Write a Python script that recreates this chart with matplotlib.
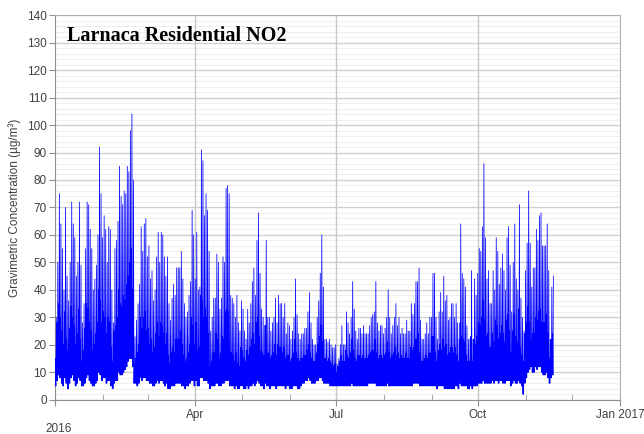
import numpy as np
import matplotlib
matplotlib.use("Agg")
import matplotlib.pyplot as plt
import matplotlib.dates as mdates

# daily maximum (µg/m3), 1 Jan 2016 .. 18 Nov 2016
peak = [30, 50, 75, 64, 55, 40, 70, 45, 36, 50, 72, 64, 59, 45, 50, 72, 49, 28, 35, 55,
        72, 71, 62, 55, 40, 44, 49, 60, 92, 75, 59, 67, 62, 50, 63, 62, 40, 28, 55, 58,
        65, 85, 74, 71, 76, 75, 85, 83, 98, 104, 80, 23, 29, 35, 42, 63, 54, 64, 66, 52,
        56, 44, 47, 36, 40, 52, 61, 50, 61, 60, 52, 45, 52, 35, 29, 37, 42, 38, 48, 48,
        48, 54, 44, 35, 30, 32, 38, 43, 69, 60, 44, 61, 40, 41, 91, 87, 67, 75, 69, 54,
        25, 30, 37, 37, 53, 50, 33, 37, 52, 50, 77, 78, 75, 38, 37, 35, 30, 38, 28, 25,
        36, 33, 25, 22, 33, 28, 35, 43, 48, 38, 58, 68, 46, 33, 30, 27, 58, 30, 30, 25,
        28, 30, 37, 28, 38, 35, 35, 30, 35, 24, 28, 27, 22, 25, 30, 44, 31, 24, 22, 24,
        24, 26, 26, 32, 39, 28, 22, 20, 20, 30, 36, 46, 60, 41, 22, 22, 21, 22, 20, 19,
        19, 20, 13, 15, 20, 27, 20, 20, 32, 28, 24, 30, 43, 33, 25, 22, 26, 26, 24, 27,
        24, 24, 24, 27, 30, 31, 32, 43, 28, 25, 27, 27, 24, 26, 30, 40, 30, 24, 27, 30,
        35, 27, 30, 24, 26, 24, 24, 29, 25, 25, 35, 31, 35, 43, 43, 48, 29, 22, 22, 24,
        28, 24, 30, 30, 46, 46, 30, 22, 32, 39, 32, 45, 36, 38, 29, 30, 35, 35, 30, 35,
        28, 22, 64, 46, 44, 41, 27, 22, 22, 47, 22, 44, 38, 46, 55, 54, 63, 86, 59, 44,
        47, 35, 35, 47, 40, 59, 54, 42, 48, 53, 47, 40, 59, 63, 49, 32, 50, 64, 44, 40,
        71, 37, 30, 25, 47, 57, 76, 57, 41, 48, 48, 62, 58, 67, 68, 56, 56, 56, 64, 47,
        22, 41, 45]

# daily typical level of the dense band
band = [15, 28, 35, 30, 25, 20, 32, 22, 18, 26, 34, 30, 27, 20, 24, 33, 22, 14, 18, 26,
        35, 33, 28, 25, 18, 20, 24, 28, 40, 36, 28, 32, 30, 24, 30, 28, 19, 14, 25, 27,
        30, 40, 35, 34, 38, 36, 42, 45, 50, 55, 40, 13, 15, 17, 20, 30, 26, 30, 32, 25,
        26, 20, 22, 17, 19, 24, 28, 23, 28, 27, 24, 20, 24, 16, 13, 17, 19, 17, 22, 22,
        22, 25, 20, 16, 14, 15, 17, 20, 30, 27, 20, 28, 18, 19, 38, 36, 30, 33, 30, 24,
        12, 14, 17, 17, 24, 22, 15, 17, 23, 22, 32, 33, 32, 17, 17, 16, 14, 17, 13, 12,
        19, 18, 15, 14, 18, 16, 19, 22, 24, 20, 28, 30, 23, 18, 17, 16, 27, 17, 17, 15,
        16, 17, 20, 16, 20, 19, 19, 17, 19, 15, 16, 16, 14, 15, 17, 22, 17, 15, 14, 15,
        15, 16, 16, 18, 20, 17, 15, 14, 14, 17, 20, 23, 27, 21, 15, 15, 14, 15, 14, 13,
        12, 13, 10, 12, 14, 16, 14, 14, 18, 16, 15, 17, 22, 18, 15, 14, 16, 16, 15, 16,
        15, 15, 15, 16, 17, 18, 18, 22, 17, 15, 16, 16, 15, 16, 17, 21, 17, 15, 16, 17,
        19, 16, 17, 15, 16, 15, 15, 17, 15, 15, 19, 18, 19, 22, 22, 24, 17, 14, 14, 15,
        16, 15, 17, 17, 23, 23, 17, 14, 18, 20, 18, 22, 19, 20, 16, 17, 19, 19, 17, 19,
        16, 14, 28, 23, 22, 21, 16, 14, 14, 23, 14, 22, 20, 23, 28, 27, 30, 36, 29, 23,
        24, 19, 19, 24, 21, 29, 27, 22, 24, 27, 24, 21, 29, 31, 25, 17, 25, 31, 23, 21,
        33, 19, 16, 14, 24, 28, 34, 28, 21, 24, 24, 30, 29, 32, 33, 28, 28, 28, 31, 24,
        15, 22, 24]

# daily minimum
low = [5, 7, 9, 8, 6, 5, 8, 6, 4, 6, 8, 9, 7, 5, 6, 8, 7, 5, 5, 6,
       8, 9, 7, 6, 5, 5, 6, 7, 10, 9, 7, 8, 8, 6, 7, 7, 5, 4, 6, 7,
       7, 10, 9, 9, 10, 11, 12, 14, 15, 15, 12, 6, 6, 5, 6, 8, 7, 8, 8, 7,
       7, 6, 6, 5, 5, 6, 7, 6, 7, 7, 6, 5, 6, 4, 4, 5, 5, 5, 6, 6,
       6, 6, 5, 5, 4, 5, 5, 6, 7, 7, 5, 7, 5, 5, 8, 8, 7, 7, 7, 6,
       4, 5, 5, 5, 6, 6, 5, 5, 6, 6, 7, 7, 7, 5, 5, 5, 4, 5, 4, 4,
       5, 5, 4, 4, 5, 4, 5, 5, 6, 5, 6, 7, 6, 5, 5, 4, 6, 5, 5, 4,
       5, 5, 5, 4, 5, 5, 5, 5, 5, 4, 5, 5, 4, 4, 5, 5, 5, 4, 4, 5,
       6, 6, 7, 7, 8, 7, 6, 6, 6, 7, 7, 8, 8, 7, 6, 6, 6, 6, 5, 5,
       5, 5, 5, 5, 5, 5, 5, 5, 5, 5, 5, 5, 6, 5, 5, 5, 5, 5, 5, 5,
       5, 5, 5, 6, 6, 6, 6, 6, 5, 5, 5, 5, 5, 5, 5, 6, 5, 5, 5, 5,
       5, 5, 5, 5, 5, 5, 5, 5, 5, 5, 5, 5, 6, 6, 6, 6, 5, 5, 5, 5,
       5, 5, 5, 5, 5, 5, 5, 4, 5, 5, 5, 5, 4, 4, 4, 4, 4, 4, 4, 5,
       5, 4, 6, 5, 5, 5, 5, 4, 4, 5, 4, 5, 5, 5, 6, 6, 6, 7, 6, 6,
       6, 6, 6, 7, 6, 7, 7, 6, 7, 7, 6, 6, 7, 7, 7, 5, 6, 7, 6, 6,
       7, 6, 5, 2, 6, 8, 10, 11, 12, 10, 10, 12, 11, 12, 12, 10, 9, 9, 10, 8,
       6, 8, 9]

start = np.datetime64('2016-01-01T00')
tick_dates = ['2016-01-01', '2016-04-01', '2016-07-01', '2016-10-01', '2017-01-01']
tick_labels = ['', 'Apr', 'Jul', 'Oct', 'Jan 2017']

times = []
vals = []
for d in range(len(peak)):
    day = start + np.timedelta64(24 * d, 'h')
    for h, v in zip([3, 9, 14, 20], [low[d], band[d], low[d], peak[d]]):
        times.append(day + np.timedelta64(h, 'h'))
        vals.append(v)
times = np.array(times).astype('datetime64[s]').astype(object)

fig = plt.figure(figsize=(6.44, 4.34), dpi=100)
ax = fig.add_axes([55 / 644, 1 - 399.7 / 434, 565 / 644, 384.5 / 434])

ax.plot(times, vals, color='#0000ff', lw=0.55, zorder=3)

ax.set_xlim(np.datetime64('2016-01-01'), np.datetime64('2017-01-01'))
ax.set_ylim(0, 140)
ax.set_yticks(range(0, 141, 10))
ax.set_yticks(range(0, 141, 2), minor=True)
ax.set_xticks([np.datetime64(t) for t in tick_dates])
ax.set_xticklabels(tick_labels)
ax.xaxis.set_minor_locator(mdates.MonthLocator())

ax.grid(which='major', axis='y', color='#d0d0d0', lw=1.0, zorder=0)
ax.grid(which='minor', axis='y', color='#efefef', lw=0.8, zorder=0)
for t in tick_dates[1:-1]:
    ax.axvline(np.datetime64(t), color='#c8c8c8', lw=1.0, zorder=2)

for s in ['top', 'right']:
    ax.spines[s].set_color('#b0b0b0')
for s in ['left', 'bottom']:
    ax.spines[s].set_color('#909090')

ax.tick_params(axis='y', which='major', length=4, color='#909090', labelsize=8.5,
               labelcolor='#404040', pad=2, labelfontfamily='Liberation Sans')
ax.tick_params(axis='y', which='minor', length=0)
ax.tick_params(axis='x', which='major', direction='inout', length=8, color='#909090',
               labelsize=8.5, labelcolor='#404040', pad=3, labelfontfamily='Liberation Sans')
ax.tick_params(axis='x', which='minor', direction='in', length=4, color='#909090')

ax.set_ylabel('Gravimetric Concentration (µg/m³)', fontsize=8.5, color='#404040',
              family='Liberation Sans', labelpad=4)
fig.text(45 / 644, 1 - 429 / 434, '2016', fontsize=8.5, color='#404040',
         family='Liberation Sans', va='center', ha='left')

ax.text(0.022, 0.945, 'Larnaca Residential NO2', transform=ax.transAxes,
        family='Liberation Serif', fontweight='bold', fontsize=14.5, va='center', ha='left')

plt.savefig('out.png', dpi=100)
